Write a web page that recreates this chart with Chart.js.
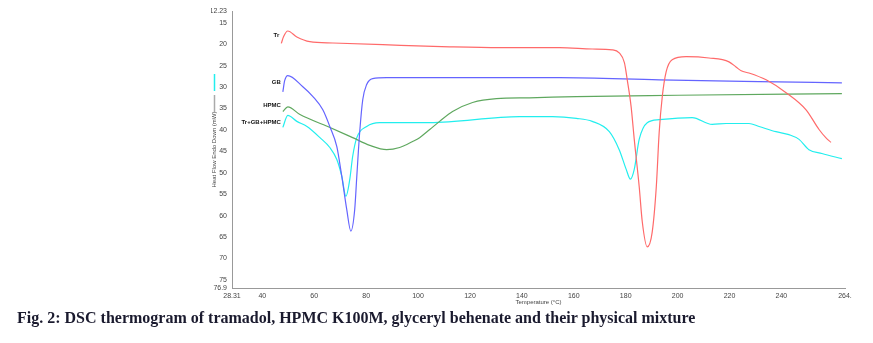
<!DOCTYPE html>
<html>
<head>
<meta charset="utf-8">
<script src="https://cdn.jsdelivr.net/npm/chart.js@4.4.1/dist/chart.umd.min.js"></script>
<style>
  body { margin: 0; background: #fff; }
  #wrap { position: relative; width: 873px; height: 343px; }
  #caption {
    position: absolute; left: 17px; top: 309px;
    font: bold 16px "Liberation Serif", "Times New Roman", serif;
    color: #1a1a2e; white-space: nowrap;
  }
</style>
</head>
<body>
<div id="wrap">
  <canvas id="dsc" width="873" height="343"></canvas>
  <div id="caption">Fig. 2: DSC thermogram of tramadol, HPMC K100M, glyceryl behenate and their physical mixture</div>
</div>
<script>
// Thermogram traces: [temperature °C, heat flow mW]
const trData = [
  [47.3, 19.8], [48.2, 18.2], [49.8, 16.9], [53.3, 18.3], [58.3, 19.4], [67.2, 19.7],
  [86.4, 20.1], [112.2, 20.6], [131.4, 20.8], [154.5, 20.8], [167.1, 21.1], [174.8, 21.3],
  [177.5, 22.0], [179.5, 24.3], [180.6, 28.3], [182.1, 34.6], [183.3, 42.2], [185.2, 53.2],
  [186.4, 61.5], [188.3, 67.3], [190.2, 63.9], [191.8, 53.2], [192.9, 40.6], [194.1, 32.2],
  [195.6, 26.4], [197.9, 23.6], [203.3, 22.9], [212.1, 23.2], [219.8, 24.1], [222.5, 25.3],
  [224.5, 26.2], [227.5, 26.7], [234.1, 28.3], [241.8, 31.3], [249.5, 35.3], [254.5, 39.9],
  [257.1, 41.8], [259.1, 42.9]
];
const gbData = [
  [47.9, 31.1], [48.6, 28.5], [49.8, 27.3], [55.6, 29.9], [59.5, 32.2], [63.3, 35.3],
  [66.0, 39.2], [68.7, 43.9], [70.6, 50.8], [72.5, 58.5], [74.1, 63.6], [75.6, 58.5],
  [76.4, 50.8], [77.5, 40.6], [78.7, 32.9], [80.2, 29.4], [82.5, 28.0], [87.9, 27.8],
  [104.5, 27.8], [154.5, 27.8], [192.9, 28.3], [231.4, 28.7], [263.3, 29.0]
];
const hpmcData = [
  [47.9, 35.7], [49.8, 34.6], [54.5, 36.4], [65.2, 39.2], [74.8, 41.8], [81.4, 43.6],
  [87.9, 44.6], [92.9, 44.1], [97.9, 42.7], [100.6, 41.8], [104.5, 39.9], [108.3, 38.0],
  [113.3, 35.7], [121.0, 33.6], [130.2, 32.7], [142.9, 32.5], [161.0, 32.2], [200.0, 31.9],
  [263.3, 31.5]
];
const mixData = [
  [47.9, 39.4], [49.8, 36.6], [53.3, 38.0], [57.2, 39.2], [62.2, 41.8], [66.0, 44.1],
  [68.7, 46.9], [70.6, 50.8], [72.2, 55.5], [73.7, 51.5], [74.8, 46.2], [76.4, 41.8],
  [80.2, 39.2], [85.2, 38.3], [104.5, 38.3], [139.1, 36.9], [151.8, 36.9], [161.0, 37.3],
  [167.1, 38.0], [173.7, 40.4], [177.5, 44.6], [180.2, 49.2], [181.8, 51.5], [183.3, 49.2],
  [185.2, 42.2], [188.3, 38.3], [192.9, 37.6], [205.6, 37.1], [213.3, 38.7], [218.7, 38.5],
  [227.5, 38.5], [231.4, 39.2], [237.9, 40.4], [242.9, 41.1], [246.8, 42.2], [250.6, 44.6],
  [255.6, 45.5], [263.3, 46.7]
];
const seriesNames = ['Tr', 'GB', 'HPMC', 'Tr+GB+HPMC'];
const seriesColors = ['#ff6a6a', '#6464ff', '#5fa85f', '#22eeee'];

const xTicks = [28.31, 40, 60, 80, 100, 120, 140, 160, 180, 200, 220, 240, 264.5];
const xTickLabels = ['28.31', '40', '60', '80', '100', '120', '140', '160', '180', '200', '220', '240', '264.'];
const yTicks = [12.23, 15, 20, 25, 30, 35, 40, 45, 50, 55, 60, 65, 70, 75, 76.9];
const yTickLabels = ['12.23', '15', '20', '25', '30', '35', '40', '45', '50', '55', '60', '65', '70', '75', '76.9'];

const toPoints = arr => arr.map(p => ({ x: p[0], y: p[1] }));
const allData = [trData, gbData, hpmcData, mixData];
const smallFont = '"Liberation Sans", Arial, sans-serif';

// curve names written just left of each trace's starting point
const curveLabels = {
  id: 'curveLabels',
  afterDatasetsDraw(chart) {
    const { ctx, scales } = chart;
    ctx.save();
    ctx.font = 'bold 6px ' + smallFont;
    ctx.fillStyle = '#111';
    ctx.textAlign = 'right';
    ctx.textBaseline = 'middle';
    const offs = [-8, -9, -6, -5];
    allData.forEach((d, i) => {
      const px = scales.x.getPixelForValue(d[0][0]) - 2;
      const py = scales.y.getPixelForValue(d[0][1]) + offs[i];
      ctx.fillText(seriesNames[i], px, py);
    });
    // small marker strips beside the y axis
    ctx.lineWidth = 1.5;
    ctx.strokeStyle = '#22eeee';
    ctx.beginPath(); ctx.moveTo(214.5, 74); ctx.lineTo(214.5, 91); ctx.stroke();
    ctx.strokeStyle = '#aaaaaa';
    ctx.beginPath(); ctx.moveTo(214.5, 95); ctx.lineTo(214.5, 112); ctx.stroke();
    ctx.restore();
  }
};

new Chart(document.getElementById('dsc'), {
  type: 'line',
  data: {
    datasets: allData.map((d, i) => ({
      label: seriesNames[i],
      data: toPoints(d),
      borderColor: seriesColors[i],
      borderWidth: 1.2,
      pointRadius: 0,
      cubicInterpolationMode: 'monotone',
      fill: false
    }))
  },
  options: {
    responsive: false,
    animation: false,
    layout: { padding: { top: 11, right: 28, left: 211, bottom: 37 } },
    plugins: { legend: { display: false }, tooltip: { enabled: false } },
    scales: {
      x: {
        type: 'linear',
        min: 28.31, max: 264.5,
        afterBuildTicks: s => { s.ticks = xTicks.map(v => ({ value: v })); },
        afterFit: s => { s.height = 18; },
        grid: { display: false, drawTicks: true, tickLength: 3, tickColor: '#888' },
        border: { color: '#999', width: 1 },
        ticks: {
          autoSkip: false, maxRotation: 0, padding: 1,
          color: '#444', font: { size: 7, family: smallFont },
          callback: (v, i) => xTickLabels[i]
        },
        title: {
          display: true, text: 'Temperature (°C)', color: '#444',
          font: { size: 6, family: smallFont },
          padding: 0
        }
      },
      y: {
        type: 'linear',
        reverse: true,
        min: 12.23, max: 76.9,
        afterBuildTicks: s => { s.ticks = yTicks.map(v => ({ value: v })); },
        afterFit: s => { s.width = 21; },
        grid: { display: false, drawTicks: true, tickLength: 3, tickColor: '#888' },
        border: { color: '#999', width: 1 },
        ticks: {
          autoSkip: false, padding: 2,
          color: '#444', font: { size: 7, family: smallFont },
          callback: (v, i) => yTickLabels[i]
        },
        title: {
          display: true, text: 'Heat Flow Endo Down (mW)', color: '#444',
          font: { size: 6, family: smallFont },
          padding: 0
        }
      }
    }
  },
  plugins: [curveLabels]
});
</script>
</body>
</html>
